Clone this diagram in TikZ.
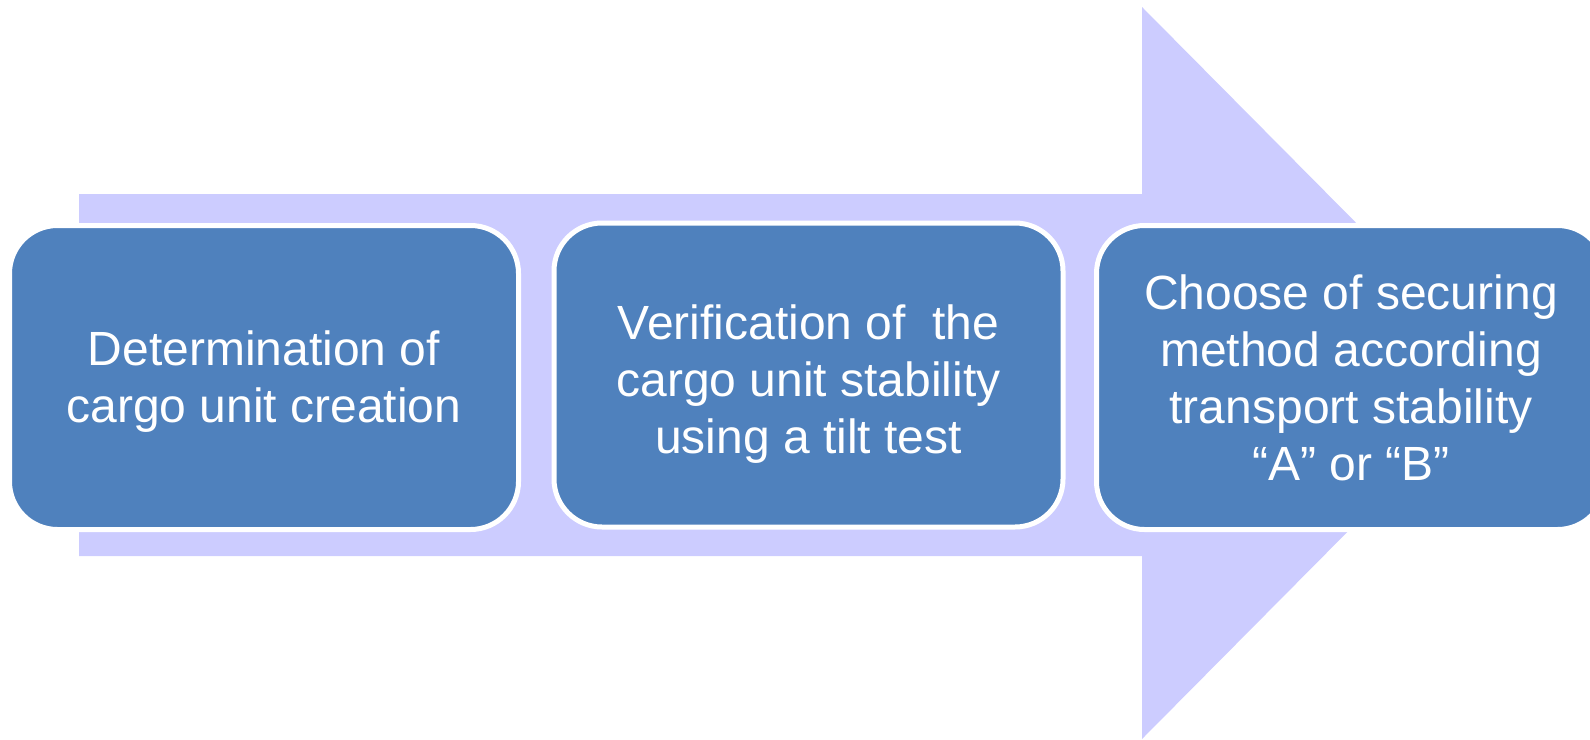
\documentclass[tikz,border=0pt]{standalone}
\usepackage{fontspec}
\setmainfont{Liberation Sans}
\definecolor{shaftlilac}{HTML}{CCCCFF}
\definecolor{stepblue}{HTML}{4F81BD}
\begin{document}
\begin{tikzpicture}[x=1pt,y=-1pt,
  stepbox/.style={draw=white, line width=5pt, fill=stepblue,
    rounded corners=48pt, minimum width=509pt, minimum height=304pt,
    inner sep=0pt},
  steptext/.style={inner sep=0pt, align=center, text=white,
    font=\fontsize{48}{57}\selectfont}]
  \useasboundingbox (0,0) rectangle (1590,739);
  \clip (0,0) rectangle (1590,739);
  % broad process arrow behind the steps
  \fill[shaftlilac] (79,194) -- (1142,194) -- (1142,7) -- (1505,373)
    -- (1142,739) -- (1142,556) -- (79,556) -- cycle;
  % the three steps
  \node[stepbox] (s1) at (264,377.5) {};
  \node[stepbox] (s2) at (808.5,375) {};
  \node[stepbox] (s3) at (1351,377.5) {};
  \node[steptext] (t1) at ([yshift=-4pt]s1.center) {Determination of\\cargo unit creation};
  \node[steptext] (t2) at ([yshift=-9pt]s2.center) {Verification of\ \ the\\cargo unit stability\\using a tilt test};
  \node[steptext] (t3) at (s3.center) {Choose of securing\\method according\\transport stability\\“A” or “B”};
\end{tikzpicture}
\end{document}
